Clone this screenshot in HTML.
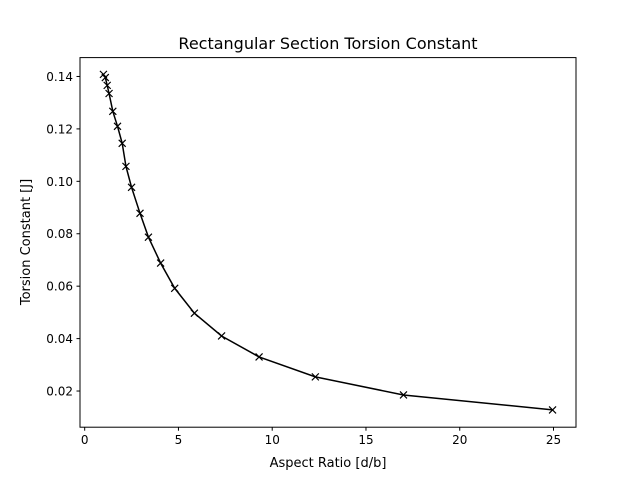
<!DOCTYPE html>
<html><head><meta charset="utf-8"><style>
body{margin:0;background:#fff;}
svg text{font-family:"DejaVu Sans","Liberation Sans",sans-serif;fill:#000;}
</style></head><body>
<svg id="chart" width="640" height="480" xmlns="http://www.w3.org/2000/svg">
<rect width="640" height="480" fill="#fff"/>
<text x="328" y="49" font-size="16" text-anchor="middle">Rectangular Section Torsion Constant</text>
<text x="328" y="467" font-size="13" text-anchor="middle">Aspect Ratio [d/b]</text>
<text x="0" y="0" font-size="13" text-anchor="middle" transform="translate(30,242) rotate(-90)">Torsion Constant [J]</text>
<g id="ticks"></g>
<g id="series"></g>
<rect x="80" y="57.6" width="496" height="369.6" fill="none" stroke="#000" stroke-width="1"/>
</svg>
<script>
const aspectRatios=[1.0,1.1,1.2,1.3,1.5,1.75,2.0,2.2,2.5,2.95,3.4,4.05,4.8,5.85,7.3,9.3,12.3,17,24.95];
const torsionConstants=[0.1408,0.1396,0.1366,0.1335,0.1267,0.121,0.1145,0.1057,0.0977,0.0878,0.0787,0.0688,0.0592,0.0497,0.041,0.033,0.0254,0.0185,0.0128];
const xTicks=[0,5,10,15,20,25];
const yTicks=[0.02,0.04,0.06,0.08,0.10,0.12,0.14];
const yTickLabels=["0.02","0.04","0.06","0.08","0.10","0.12","0.14"];
const NS="http://www.w3.org/2000/svg";
const L=80,R=576,T=57.6,B=427.2;
const xmin=-0.25,xmax=26.2,ymin=0.0062,ymax=0.1472;
const sx=v=>L+(v-xmin)/(xmax-xmin)*(R-L);
const sy=v=>B-(v-ymin)/(ymax-ymin)*(B-T);
const tg=document.getElementById('ticks'),sg=document.getElementById('series');
function mk(tag,attrs,parent){const e=document.createElementNS(NS,tag);for(const k in attrs)e.setAttribute(k,attrs[k]);parent.appendChild(e);return e;}
xTicks.forEach(t=>{const x=sx(t);
 const l=mk('line',{x1:x,x2:x,y1:B,y2:B+3.5,stroke:'#000'},tg);
 
 
 const tx=mk('text',{x:x,y:B+17,'font-size':12,'text-anchor':'middle'},tg);tx.textContent=t;
 
 
});
yTicks.forEach((t,i)=>{const y=sy(t);
 const l=mk('line',{x1:L-3.5,x2:L,y1:y,y2:y,stroke:'#000'},tg);
 
 
 const tx=mk('text',{x:L-7,y:y+4.5,'font-size':12,'text-anchor':'end'},tg);tx.textContent=yTickLabels[i];
 
 
});
const pts=aspectRatios.map((v,i)=>sx(v)+','+sy(torsionConstants[i])).join(' ');
const pl=mk('polyline',{points:pts,fill:'none',stroke:'#000','stroke-width':1.5},sg);


aspectRatios.forEach((v,i)=>{const x=sx(v),y=sy(torsionConstants[i]),s=3.5;
 const m=mk('path',{d:`M${x-s},${y-s}L${x+s},${y+s}M${x-s},${y+s}L${x+s},${y-s}`,stroke:'#000','stroke-width':1.2},sg);
 
 
});
</script>
</body></html>
